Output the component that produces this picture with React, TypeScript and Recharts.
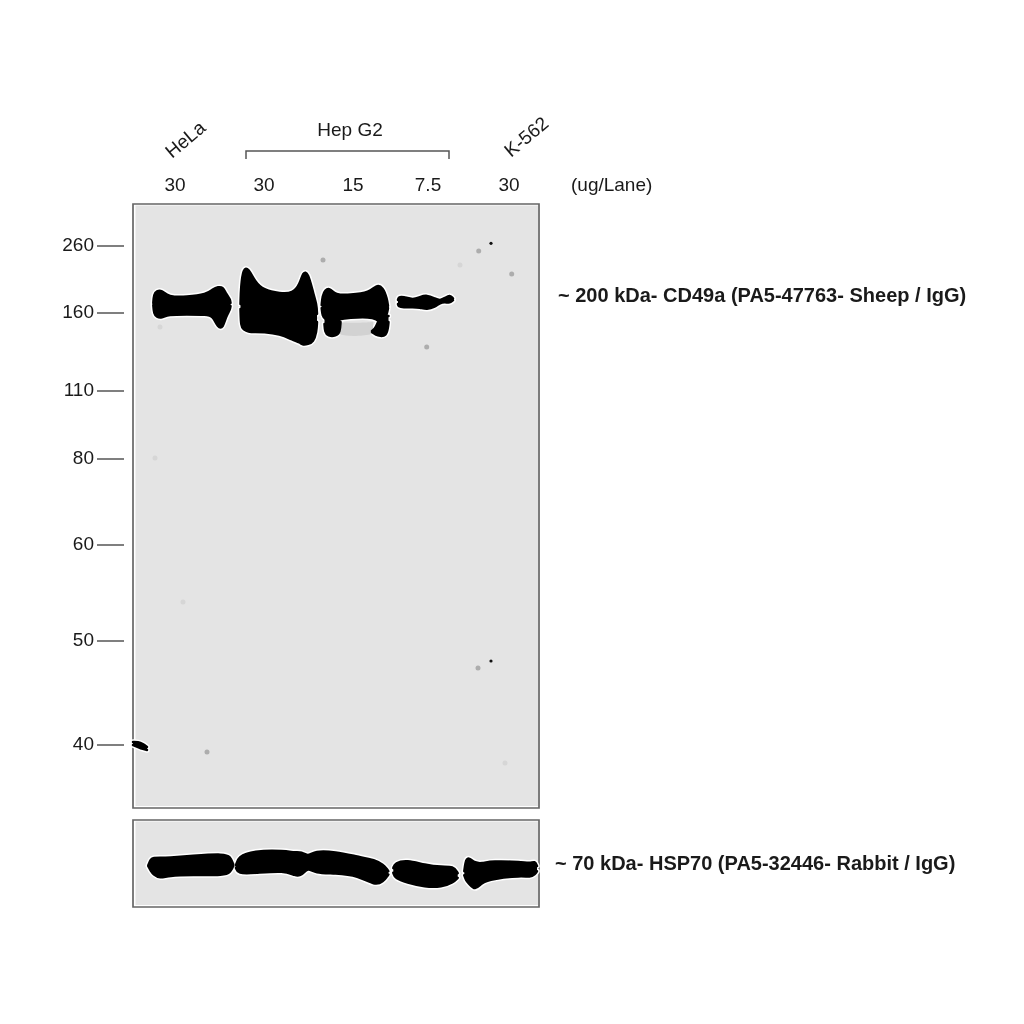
import {
  Area,
  ComposedChart,
  ReferenceArea,
  Scatter,
  XAxis,
  YAxis,
} from "recharts";

const FONT = "'Liberation Sans', Arial, sans-serif";
const INK = "#1a1a1a";
const FRAME = "#666666";
const MEMBRANE = "#e4e4e4";

// lane distance across the membrane and migration distance down it, both
const laneLoads = ["30", "30", "15", "7.5", "30"];
const lanePositions = [42, 131, 220, 295, 376];
const kdaLabels = ["260", "160", "110", "80", "60", "50", "40"];
const kdaPositions = [41, 108, 186, 254, 340, 436, 540];

type Row = [number, number, number];

// [lane distance, top edge, bottom edge]
const helaBand: Row[] = [
  [20.3, 99, 101], [21, 90, 110], [23.7, 87, 113], [28.7, 86, 114], [35, 93, 110.5], [53.7, 93, 110.5],
  [73.7, 90.5, 110.5], [80, 85, 112], [85, 83, 124], [90, 83, 124], [93, 90, 112], [97, 95, 106], [97.5, 99, 102],
];
const hepG230Band: Row[] = [
  [107.5, 100, 105], [108, 82.7, 122.7], [110.3, 64, 125], [115.3, 64, 128], [122, 78, 128], [130.3, 86, 128],
  [147, 89.5, 130], [160, 89.5, 136], [167, 80, 138.5], [170, 68, 141], [175, 68, 140],
  [180.3, 90, 138], [183.5, 100, 128], [184, 110, 118],
];
const hepG215Band: Row[] = [
  [188.7, 101, 104], [189.5, 92, 112], [192, 86, 115], [197, 84, 117], [202, 91, 116], [217, 91, 113.5],
  [237, 88.5, 113], [243, 81, 115], [250, 83, 120], [254, 95, 110], [255, 102, 104],
];
const hepG215LeftFoot: Row[] = [[191.5, 112, 120], [192, 112, 128], [195, 112, 132], [203, 112, 132], [207, 112, 128], [207.5, 112, 118]];
const hepG215RightFoot: Row[] = [[239, 127, 128], [243, 124, 131], [247, 112, 132], [253, 112, 132], [255, 112, 124], [255.5, 112, 118]];
const hepG215Smear: Row[] = [[205, 118, 130], [220, 119, 133], [240, 118, 130]];
const hepG27Band: Row[] = [
  [265, 96, 100], [265.5, 93, 102.5], [270, 92.5, 103.5], [280, 96, 103], [287, 93, 103.5], [293.7, 91, 105.5],
  [302, 94.5, 103], [307, 96.7, 98.7], [312, 94, 98], [317, 91, 99], [320, 94.5, 96.2],
];
const edgeSmear: Row[] = [[0, 538, 541], [5, 538, 543], [10, 540, 545], [14, 543, 546]];

const hsp70Lane1: Row[] = [
  [15.3, 44.3, 45], [18, 38, 50], [20.3, 37, 53], [27, 37, 57], [35.3, 37, 54.3], [58.7, 35, 53.5],
  [92, 33, 54], [97, 36, 51], [99.7, 42, 46], [100.3, 43.5, 45],
];
const hsp70Lanes23: Row[] = [
  [103, 44.3, 46.7], [105, 36, 52.5], [120.3, 30, 52], [152, 30, 49.3], [162, 32, 54.5],
  [168.7, 31, 54.5], [174.7, 36, 46], [182, 30, 52], [202, 31, 52], [225.3, 36, 54.3],
  [242, 39, 64], [250.3, 44, 60], [254, 48, 55], [255.3, 50, 53.3],
];
const hsp70Lane4: Row[] = [
  [260.3, 47, 51.5], [262, 42, 57], [273.7, 39, 61], [292, 44, 65.5], [308.7, 46, 65.5],
  [320.3, 45, 61], [324.7, 52, 56.5],
];
const hsp70Lane5: Row[] = [
  [331.3, 50, 54], [333, 38, 59], [336, 37, 62], [342, 42, 69], [348.7, 42.5, 61], [358.7, 40, 57.5],
  [388.7, 41, 54.3], [397, 42.5, 56], [402, 40, 53], [404, 45, 50],
];

const darkSpecks = [{ x: 358, y: 39.3 }, { x: 358, y: 457 }];
const greySpecks = [
  { x: 345.7, y: 47 }, { x: 190, y: 56 }, { x: 378.7, y: 70 }, { x: 293.7, y: 143 },
  { x: 74, y: 548 }, { x: 345, y: 464 },
];
const paleSpecks = [
  { x: 27, y: 123 }, { x: 327, y: 61 }, { x: 22, y: 254 }, { x: 50, y: 398 }, { x: 372, y: 559 },
];

const toBand = (rows: Row[]) => rows.map(([x, top, bottom]) => ({ x, range: [top, bottom] }));

const blackBands = [helaBand, hepG230Band, hepG215LeftFoot, hepG215RightFoot, hepG215Band, hepG27Band, edgeSmear];
const hsp70Bands = [hsp70Lane1, hsp70Lanes23, hsp70Lane4, hsp70Lane5];

function LaneTick({ x, index }: any) {
  return (
    <text x={x} y={191} textAnchor="middle" fontFamily={FONT} fontSize={19} fill={INK}>
      {laneLoads[index]}
    </text>
  );
}

function KdaTick({ y, index }: any) {
  return (
    <g>
      <text x={94} y={y + 6} textAnchor="end" fontFamily={FONT} fontSize={19} fill={INK}>
        {kdaLabels[index]}
      </text>
      <line x1={97} x2={124} y1={y + 1} y2={y + 1} stroke="#555" strokeWidth={1.5} />
    </g>
  );
}

const speck = (r: number, fill: string) => (p: any) => <circle cx={p.cx} cy={p.cy} r={r} fill={fill} />;

const band = (rows: Row[], key: string, fill: string, stroke: string, strokeWidth: number) => (
  <Area
    key={key}
    data={toBand(rows)}
    dataKey="range"
    type="basis"
    fill={fill}
    fillOpacity={1}
    stroke={stroke}
    strokeWidth={strokeWidth}
    strokeLinecap="round"
    strokeLinejoin="round"
    dot={false}
    activeDot={false}
    isAnimationActive={false}
  />
);

export default function App() {
  return (
    <div style={{ position: "absolute", left: 0, top: 0, width: 1024, height: 1024, background: "#fff", filter: "blur(0.6px)" }}>
      <div style={{ position: "absolute", left: 0, top: 0 }}>
        <ComposedChart width={1024} height={812} margin={{ top: 0, right: 485, bottom: 4, left: 0 }}>
          <XAxis
            type="number"
            dataKey="x"
            orientation="top"
            domain={[0, 406]}
            ticks={lanePositions}
            interval={0}
            height={204}
            axisLine={false}
            tickLine={false}
            tick={<LaneTick />}
          />
          <YAxis
            type="number"
            dataKey="y"
            reversed
            domain={[0, 604]}
            ticks={kdaPositions}
            interval={0}
            width={133}
            axisLine={false}
            tickLine={false}
            tick={<KdaTick />}
          />
          <ReferenceArea x1={0} x2={406} y1={0} y2={604} fill="#fff" fillOpacity={1} stroke={FRAME} strokeWidth={1.7} />
          <ReferenceArea x1={2.5} x2={405} y1={1.5} y2={602} fill={MEMBRANE} fillOpacity={1} stroke="none" />
          {blackBands.map((rows, i) => band(rows, `halo${i}`, "#ffffff", "#ffffff", 5.5))}
          {band(hepG215Smear, "smear", "#d2d2d2", "none", 0)}
          {blackBands.map((rows, i) => band(rows, `ink${i}`, "#000000", "#000000", 2.5))}
          <Scatter data={paleSpecks} shape={speck(2.5, "#d6d6d6")} isAnimationActive={false} />
          <Scatter data={greySpecks} shape={speck(2.5, "#adadad")} isAnimationActive={false} />
          <Scatter data={darkSpecks} shape={speck(1.6, "#111111")} isAnimationActive={false} />
          <text x={350} y={136} textAnchor="middle" fontFamily={FONT} fontSize={19} fill={INK}>Hep G2</text>
          <text x={571} y={191} fontFamily={FONT} fontSize={19} fill={INK}>(ug/Lane)</text>
          <text x={172} y={159} transform="rotate(-40 172 159)" fontFamily={FONT} fontSize={19} fill={INK}>HeLa</text>
          <text x={511} y={158} transform="rotate(-40 511 158)" fontFamily={FONT} fontSize={19} fill={INK}>K-562</text>
          <path d="M246 159 V151 H449 V159" fill="none" stroke="#555" strokeWidth={1.5} />
          <text x={558} y={302} fontFamily={FONT} fontSize={20} fontWeight="bold" fill={INK}>
            ~ 200 kDa- CD49a (PA5-47763- Sheep / IgG)
          </text>
        </ComposedChart>
      </div>
      <div style={{ position: "absolute", left: 0, top: 816 }}>
        <ComposedChart width={1024} height={94} margin={{ top: 4, right: 485, bottom: 3, left: 133 }}>
          <XAxis type="number" dataKey="x" domain={[0, 406]} hide />
          <YAxis type="number" reversed domain={[0, 85]} hide />
          <ReferenceArea x1={0} x2={406} y1={0} y2={85} fill="#fff" fillOpacity={1} stroke={FRAME} strokeWidth={1.7} />
          <ReferenceArea x1={2.5} x2={405} y1={1.5} y2={83} fill={MEMBRANE} fillOpacity={1} stroke="none" />
          {hsp70Bands.map((rows, i) => band(rows, `halo${i}`, "#ffffff", "#ffffff", 5.5))}
          {hsp70Bands.map((rows, i) => band(rows, `ink${i}`, "#000000", "#000000", 2.5))}
          <text x={555} y={54} fontFamily={FONT} fontSize={20} fontWeight="bold" fill={INK}>
            ~ 70 kDa- HSP70 (PA5-32446- Rabbit / IgG)
          </text>
        </ComposedChart>
      </div>
    </div>
  );
}
